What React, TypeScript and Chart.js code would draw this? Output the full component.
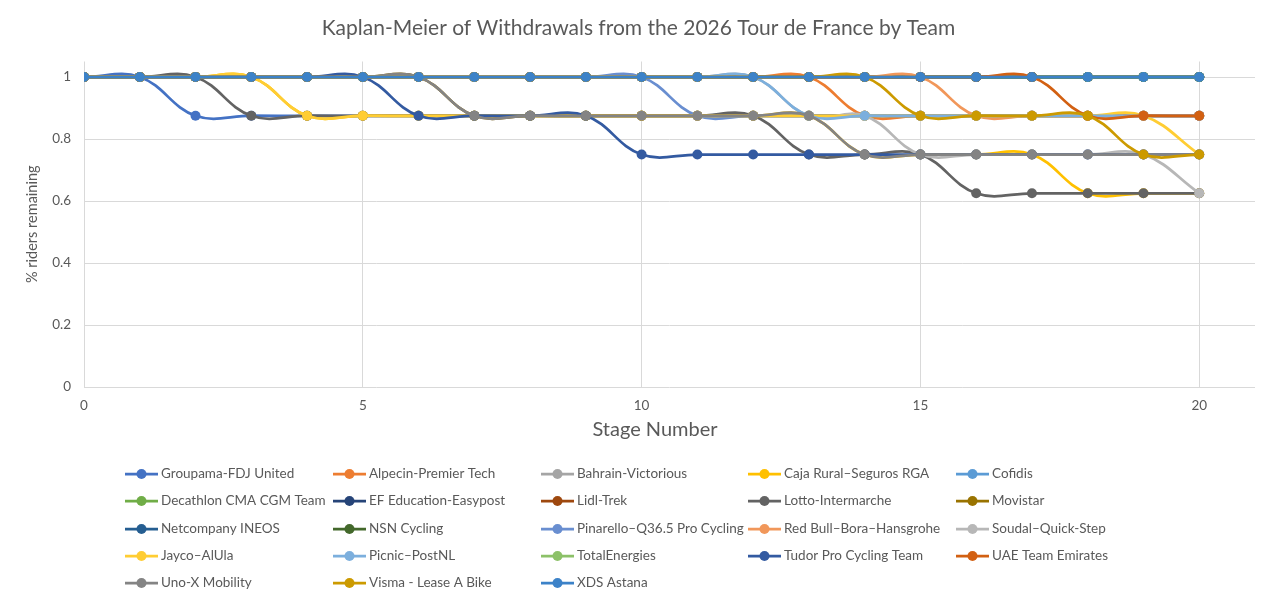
import { useEffect, useRef } from "react";
import { Chart, registerables } from "chart.js";

Chart.register(...registerables);

const chartTitle = "Kaplan-Meier of Withdrawals from the 2026 Tour de France by Team";
const xAxisTitle = "Stage Number";
const yAxisTitle = "% riders remaining";

const stages = [0, 1, 2, 3, 4, 5, 6, 7, 8, 9, 10, 11, 12, 13, 14, 15, 16, 17, 18, 19, 20];

const teams = [
  "Groupama-FDJ United",
  "Alpecin-Premier Tech",
  "Bahrain-Victorious",
  "Caja Rural–Seguros RGA",
  "Cofidis",
  "Decathlon CMA CGM Team",
  "EF Education-Easypost",
  "Lidl-Trek",
  "Lotto-Intermarche",
  "Movistar",
  "Netcompany INEOS",
  "NSN Cycling",
  "Pinarello–Q36.5 Pro Cycling",
  "Red Bull–Bora–Hansgrohe",
  "Soudal–Quick-Step",
  "Jayco–AlUla",
  "Picnic–PostNL",
  "TotalEnergies",
  "Tudor Pro Cycling Team",
  "UAE Team Emirates",
  "Uno-X Mobility",
  "Visma - Lease A Bike",
  "XDS Astana",
];

const groupama = [1, 1, 0.875, 0.875, 0.875, 0.875, 0.875, 0.875, 0.875, 0.875, 0.875, 0.875, 0.875, 0.875, 0.875, 0.875, 0.875, 0.875, 0.875, 0.875, 0.875];
const alpecin = [1, 1, 1, 1, 1, 1, 1, 1, 1, 1, 1, 1, 1, 1, 0.875, 0.875, 0.875, 0.875, 0.875, 0.875, 0.875];
const bahrain = [1, 1, 1, 1, 1, 1, 1, 1, 1, 1, 1, 1, 1, 1, 1, 1, 1, 1, 1, 1, 1];
const cajaRural = [1, 1, 1, 1, 0.875, 0.875, 0.875, 0.875, 0.875, 0.875, 0.875, 0.875, 0.875, 0.875, 0.75, 0.75, 0.75, 0.75, 0.625, 0.625, 0.625];
const cofidis = [1, 1, 1, 1, 1, 1, 1, 1, 1, 1, 1, 1, 1, 1, 1, 1, 1, 1, 1, 1, 1];
const decathlon = [1, 1, 1, 1, 1, 1, 1, 1, 1, 1, 1, 1, 1, 1, 1, 1, 1, 1, 1, 1, 1];
const efEducation = [1, 1, 1, 1, 1, 1, 1, 1, 1, 1, 1, 1, 1, 1, 1, 1, 1, 1, 1, 1, 1];
const lidlTrek = [1, 1, 1, 1, 1, 1, 1, 1, 1, 1, 1, 1, 1, 1, 1, 1, 1, 1, 1, 1, 1];
const lotto = [1, 1, 1, 0.875, 0.875, 0.875, 0.875, 0.875, 0.875, 0.875, 0.875, 0.875, 0.875, 0.75, 0.75, 0.75, 0.625, 0.625, 0.625, 0.625, 0.625];
const movistar = [1, 1, 1, 1, 1, 1, 1, 0.875, 0.875, 0.875, 0.875, 0.875, 0.875, 0.875, 0.875, 0.875, 0.875, 0.875, 0.875, 0.875, 0.875];
const netcompany = [1, 1, 1, 1, 1, 1, 1, 1, 1, 1, 1, 1, 1, 1, 1, 1, 1, 1, 1, 1, 1];
const nsn = [1, 1, 1, 1, 1, 1, 1, 1, 1, 1, 1, 1, 1, 1, 1, 1, 1, 1, 1, 1, 1];
const pinarello = [1, 1, 1, 1, 1, 1, 1, 1, 1, 1, 1, 0.875, 0.875, 0.875, 0.875, 0.875, 0.875, 0.875, 0.875, 0.875, 0.875];
const redBull = [1, 1, 1, 1, 1, 1, 1, 1, 1, 1, 1, 1, 1, 1, 1, 1, 0.875, 0.875, 0.875, 0.875, 0.875];
const soudal = [1, 1, 1, 1, 1, 1, 1, 1, 1, 1, 1, 1, 1, 0.875, 0.875, 0.75, 0.75, 0.75, 0.75, 0.75, 0.625];
const jayco = [1, 1, 1, 1, 0.875, 0.875, 0.875, 0.875, 0.875, 0.875, 0.875, 0.875, 0.875, 0.875, 0.875, 0.875, 0.875, 0.875, 0.875, 0.875, 0.75];
const picnic = [1, 1, 1, 1, 1, 1, 1, 1, 1, 1, 1, 1, 1, 0.875, 0.875, 0.875, 0.875, 0.875, 0.875, 0.875, 0.875];
const totalEnergies = [1, 1, 1, 1, 1, 1, 1, 1, 1, 1, 1, 1, 1, 1, 1, 1, 1, 1, 1, 1, 1];
const tudor = [1, 1, 1, 1, 1, 1, 0.875, 0.875, 0.875, 0.875, 0.75, 0.75, 0.75, 0.75, 0.75, 0.75, 0.75, 0.75, 0.75, 0.75, 0.75];
const uae = [1, 1, 1, 1, 1, 1, 1, 1, 1, 1, 1, 1, 1, 1, 1, 1, 1, 1, 0.875, 0.875, 0.875];
const unoX = [1, 1, 1, 1, 1, 1, 1, 0.875, 0.875, 0.875, 0.875, 0.875, 0.875, 0.875, 0.75, 0.75, 0.75, 0.75, 0.75, 0.75, 0.75];
const visma = [1, 1, 1, 1, 1, 1, 1, 1, 1, 1, 1, 1, 1, 1, 1, 0.875, 0.875, 0.875, 0.875, 0.75, 0.75];
const xdsAstana = [1, 1, 1, 1, 1, 1, 1, 1, 1, 1, 1, 1, 1, 1, 1, 1, 1, 1, 1, 1, 1];

const seriesValues = [
  groupama, alpecin, bahrain, cajaRural, cofidis, decathlon, efEducation, lidlTrek,
  lotto, movistar, netcompany, nsn, pinarello, redBull, soudal, jayco, picnic,
  totalEnergies, tudor, uae, unoX, visma, xdsAstana,
];

const teamColors = [
  "#4472C4", "#ED7D31", "#A5A5A5", "#FFC000", "#5B9BD5", "#70AD47", "#264478", "#9E480E",
  "#636363", "#997300", "#255E91", "#43682B", "#698ED0", "#F1975A", "#B7B7B7", "#FFCD33",
  "#7CAFDD", "#8CC168", "#335AA1", "#D26012", "#848484", "#CC9A00", "#3C82C8",
];

const xTicks = [0, 5, 10, 15, 20];
const yTicks = [0, 0.2, 0.4, 0.6, 0.8, 1];

const FONT = "Lato, 'Open Sans', sans-serif";
const TEXT = "#595959";
const GRID = "#D9D9D9";

const gridLegend = {
  id: "gridLegend",
  afterDraw(chart: any) {
    const ctx = chart.ctx;
    const colX = [125, 333, 541, 748, 956];
    const rowY = [474, 501, 529, 556, 583];
    ctx.save();
    // x-axis title
    ctx.fillStyle = TEXT;
    ctx.font = `20px ${FONT}`;
    ctx.textAlign = "center";
    ctx.textBaseline = "middle";
    ctx.fillText(xAxisTitle, 655, 430);
    chart.data.datasets.forEach((ds: any, i: number) => {
      const x0 = colX[i % 5];
      const y = rowY[Math.floor(i / 5)];
      ctx.strokeStyle = ds.borderColor;
      ctx.lineWidth = 2.75;
      ctx.beginPath();
      ctx.moveTo(x0, y);
      ctx.lineTo(x0 + 33, y);
      ctx.stroke();
      ctx.fillStyle = ds.borderColor;
      ctx.beginPath();
      ctx.arc(x0 + 16.5, y, 5, 0, Math.PI * 2);
      ctx.fill();
      ctx.fillStyle = TEXT;
      ctx.font = `13.5px ${FONT}`;
      ctx.textBaseline = "middle";
      ctx.textAlign = "left";
      ctx.fillText(ds.label, x0 + 36, y);
    });
    ctx.restore();
  },
};

export default function App() {
  const ref = useRef<HTMLCanvasElement>(null);

  useEffect(() => {
    if (!ref.current) return;
    const n = teams.length;
    const chart = new Chart(ref.current, {
      type: "line",
      data: {
        datasets: teams.map((team, i) => ({
          label: team,
          data: stages.map((s, k) => ({ x: s, y: seriesValues[i][k] })),
          borderColor: teamColors[i],
          backgroundColor: teamColors[i],
          pointBackgroundColor: teamColors[i],
          pointBorderColor: teamColors[i],
          borderWidth: 2.75,
          pointRadius: 5,
          pointBorderWidth: 0,
          tension: 0.4,
          fill: false,
          order: n - i,
        })),
      },
      options: {
        animation: false,
        responsive: true,
        maintainAspectRatio: false,
        layout: { padding: { left: 22, right: 25, top: 0, bottom: 158 } },
        plugins: {
          legend: { display: false },
          tooltip: { enabled: false },
          title: {
            display: true,
            text: chartTitle,
            color: TEXT,
            font: { family: FONT, size: 21, weight: "normal" },
            padding: { top: 16, bottom: 20.3 },
          },
        },
        scales: {
          x: {
            type: "linear",
            min: 0,
            max: 21,
            afterBuildTicks: (s: any) => {
              s.ticks = xTicks.map((v) => ({ value: v }));
            },
            afterFit: (s: any) => {
              s.height = 60;
            },
            ticks: { color: TEXT, font: { family: FONT, size: 13.5 }, padding: 11 },
            grid: { color: GRID, drawTicks: false, lineWidth: 1 },
            border: { display: false },
            title: { display: false },
          },
          y: {
            type: "linear",
            min: 0,
            max: 1.05,
            afterBuildTicks: (s: any) => {
              s.ticks = yTicks.map((v) => ({ value: v }));
            },
            afterFit: (s: any) => {
              s.width = 62;
            },
            ticks: {
              color: TEXT,
              font: { family: FONT, size: 13.5 },
              padding: 13,
              callback: (v: any) => String(Math.round(Number(v) * 10) / 10),
            },
            grid: { color: GRID, drawTicks: false, lineWidth: 1 },
            border: { display: false },
            title: {
              display: true,
              text: yAxisTitle,
              color: TEXT,
              font: { family: FONT, size: 14.5 },
              padding: { top: 2, bottom: 0 },
            },
          },
        },
      },
      plugins: [gridLegend],
    });
    return () => chart.destroy();
  }, []);

  return (
    <div style={{ position: "fixed", left: 0, top: 0, width: 1280, height: 605, background: "#ffffff" }}>
      <canvas ref={ref} />
    </div>
  );
}
